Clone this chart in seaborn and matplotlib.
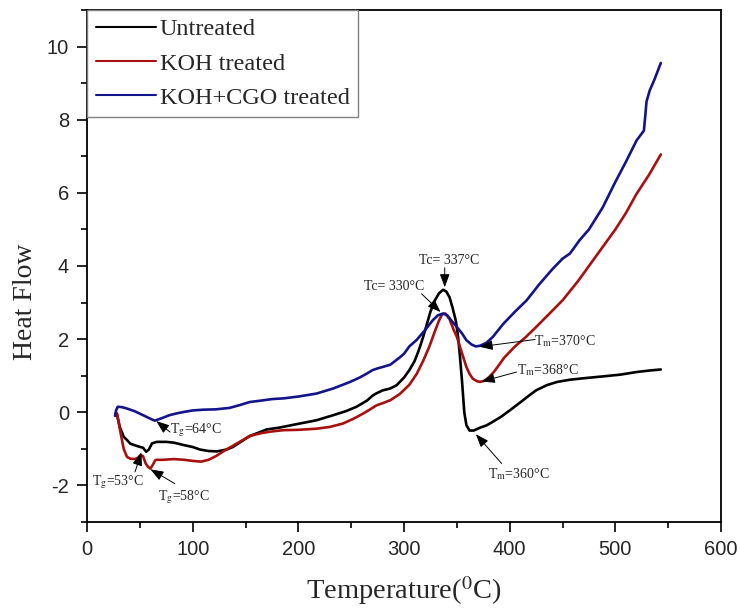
import pandas as pd
import seaborn as sns
import matplotlib.pyplot as plt
from matplotlib.ticker import MultipleLocator

# DSC curves: temperature (C) and heat flow
untreated_t = [27, 28, 31, 34.7, 37.5, 41, 47, 50.4, 53, 56, 58.5, 61.5, 66, 69, 75, 82, 92, 100,
               107, 115, 123, 132, 138, 146, 154, 163, 170, 182, 201, 217, 233, 245, 255, 265,
               270, 274, 280, 287, 293, 300, 305, 310, 314, 318, 322, 325, 329, 333, 337, 340,
               343, 346, 349, 351, 353, 355, 357, 359, 362, 366, 372, 378, 384, 392, 400, 410,
               418, 425, 435, 445, 457, 470, 488, 505, 520, 532, 543]
untreated_hf = [-0.05, -0.03, -0.4, -0.67, -0.75, -0.86, -0.92, -0.95, -0.97, -1.08, -1.02, -0.85,
                -0.81, -0.81, -0.81, -0.83, -0.9, -0.95, -1.02, -1.06, -1.07, -1.02, -0.95, -0.8,
                -0.65, -0.55, -0.47, -0.42, -0.31, -0.22, -0.08, 0.03, 0.15, 0.32, 0.45, 0.52,
                0.6, 0.65, 0.74, 0.95, 1.15, 1.4, 1.7, 2.05, 2.45, 2.75, 3.05, 3.25, 3.35, 3.3,
                3.15, 2.85, 2.5, 2.1, 1.5, 0.8, 0.0, -0.35, -0.5, -0.5, -0.42, -0.36, -0.26,
                -0.12, 0.05, 0.27, 0.45, 0.6, 0.74, 0.83, 0.89, 0.93, 0.98, 1.03, 1.1, 1.14, 1.17]

koh_t = [27, 28.5, 31, 34.7, 37.8, 41, 45, 48, 50.4, 53, 55.5, 58, 60, 62, 64.6, 66, 72, 82, 92,
         100, 108, 115, 122, 129, 136, 145, 154, 165, 176, 186, 200, 217, 230, 242, 252, 261,
         268, 274, 280, 287, 296, 305, 312, 318, 324, 329, 333, 336, 339, 343, 347, 350, 355,
         359, 362, 365, 369, 372, 376, 380, 385, 390, 395, 405, 415, 425, 437, 450, 465, 480,
         488, 500, 510, 520, 532, 543]
koh_hf = [-0.05, -0.04, -0.45, -1.0, -1.22, -1.27, -1.28, -1.25, -1.17, -1.2, -1.4, -1.5, -1.54,
          -1.45, -1.31, -1.3, -1.3, -1.28, -1.3, -1.33, -1.35, -1.3, -1.2, -1.07, -0.95, -0.8,
          -0.65, -0.57, -0.52, -0.49, -0.48, -0.45, -0.4, -0.31, -0.18, -0.04, 0.08, 0.19, 0.25,
          0.33, 0.5, 0.75, 1.05, 1.4, 1.8, 2.2, 2.5, 2.68, 2.7, 2.55, 2.25, 2.06, 1.6, 1.24,
          1.05, 0.92, 0.85, 0.83, 0.86, 0.95, 1.1, 1.3, 1.5, 1.8, 2.05, 2.33, 2.68, 3.06, 3.6,
          4.2, 4.52, 5.0, 5.45, 5.97, 6.5, 7.05]

cgo_t = [26.5, 27.5, 29, 33, 38, 45, 53, 58, 64, 70, 78, 85, 92, 100, 110, 122, 135, 145, 154,
         165, 175, 186, 200, 217, 233, 249, 258, 265, 270, 275, 280, 287, 296, 300, 305, 312,
         320, 327, 332, 337, 341, 345, 350, 355, 359, 364, 368, 372, 378, 384, 394, 405, 416,
         428, 440, 450, 457, 466, 475, 488, 500, 510, 520, 527, 529.5, 532.5, 537, 543]
cgo_hf = [-0.1, 0.05, 0.15, 0.14, 0.1, 0.03, -0.08, -0.15, -0.23, -0.17, -0.08, -0.03, 0.01,
          0.05, 0.07, 0.08, 0.12, 0.2, 0.28, 0.32, 0.36, 0.38, 0.43, 0.51, 0.65, 0.83, 0.95,
          1.06, 1.15, 1.2, 1.24, 1.3, 1.5, 1.6, 1.8, 1.98, 2.25, 2.51, 2.65, 2.7, 2.65, 2.5,
          2.33, 2.15, 1.97, 1.85, 1.8, 1.82, 1.9, 2.06, 2.42, 2.75, 3.06, 3.5, 3.9, 4.2, 4.34,
          4.7, 5.0, 5.6, 6.3, 6.85, 7.43, 7.7, 8.5, 8.8, 9.1, 9.55]

series_names = ['Untreated', 'KOH treated', 'KOH+CGO treated']
series_colors = ['black', '#A8100F', '#14148A']

# annotations: text, text position, arrow tail, arrow head (data units)
notes = [
    ('Tc= 337°C', (342.5, 4.15), (338.5, 3.95), (338.5, 3.42)),
    ('Tc= 330°C', (290.5, 3.44), (316.6, 3.24), (334.5, 2.74)),
    (r'T$_{\mathrm{g}}$=64°C', (103, -0.49), (78.5, -0.54), (65.5, -0.24)),
    (r'T$_{\mathrm{g}}$=53°C', (29.4, -1.9), (45.4, -1.63), (51.5, -1.1)),
    (r'T$_{\mathrm{g}}$=58°C', (91.8, -2.31), (83, -1.95), (60, -1.56)),
    (r'T$_{\mathrm{m}}$=370°C', (452, 1.95), (424, 1.99), (371.5, 1.79)),
    (r'T$_{\mathrm{m}}$=368°C', (435.7, 1.15), (406.5, 1.1), (373.5, 0.84)),
    (r'T$_{\mathrm{m}}$=360°C', (408.7, -1.68), (392.3, -1.4), (368, -0.6)),
]

sns.set_style('ticks')
plt.rcParams['font.family'] = ['Liberation Serif', 'DejaVu Serif']
plt.rcParams['mathtext.fontset'] = 'stix'
plt.rcParams['axes.unicode_minus'] = False

fig = plt.figure(figsize=(7.4, 6.11), dpi=100)
ax = fig.add_axes([0.1176, 0.1457, 0.8568, 0.838])

curves = [(untreated_t, untreated_hf), (koh_t, koh_hf), (cgo_t, cgo_hf)]
for (t, hf), name, col in zip(curves, series_names, series_colors):
    df = pd.DataFrame({'T': t, 'HF': hf})
    sns.lineplot(data=df, x='T', y='HF', ax=ax, color=col, lw=1.9, label=name,
                 sort=False, estimator=None)

for txt, xy_txt, tail, head in notes:
    ax.text(xy_txt[0], xy_txt[1], txt, ha='center', va='center', fontsize=10)
    ax.annotate('', xy=head, xytext=tail,
                arrowprops=dict(arrowstyle='-|>,head_length=0.8,head_width=0.3',
                                color='black', lw=0.7, shrinkA=0, shrinkB=0))

ax.set_xlim(0, 600)
ax.set_ylim(-3, 11)
ax.xaxis.set_major_locator(MultipleLocator(100))
ax.xaxis.set_minor_locator(MultipleLocator(50))
ax.yaxis.set_major_locator(MultipleLocator(2))
ax.yaxis.set_minor_locator(MultipleLocator(1))
ax.tick_params(which='major', length=7, width=1.2, direction='out', color='black', pad=6)
ax.tick_params(which='minor', length=4, width=1.2, direction='out', color='black')
for lab in ax.get_xticklabels() + ax.get_yticklabels():
    lab.set_family('Liberation Sans')
    lab.set_fontsize(14.5)
for sp in ax.spines.values():
    sp.set_linewidth(1.3)
    sp.set_color('black')

ax.set_xlabel(r'Temperature($^{0}$C)', fontsize=20.5, labelpad=11)
ax.set_ylabel('Heat Flow', fontsize=20)
ax.yaxis.set_label_coords(-0.078, 0.43)

leg = ax.legend(loc='upper left', bbox_to_anchor=(0, 1), borderaxespad=0, fancybox=False,
                edgecolor='gray', framealpha=1, fontsize=17.5, handlelength=2.5,
                handletextpad=0.15, borderpad=0.35, labelspacing=0.5)
for h in leg.get_lines():
    h.set_linewidth(1.5)

plt.savefig('out.png', dpi=100)
